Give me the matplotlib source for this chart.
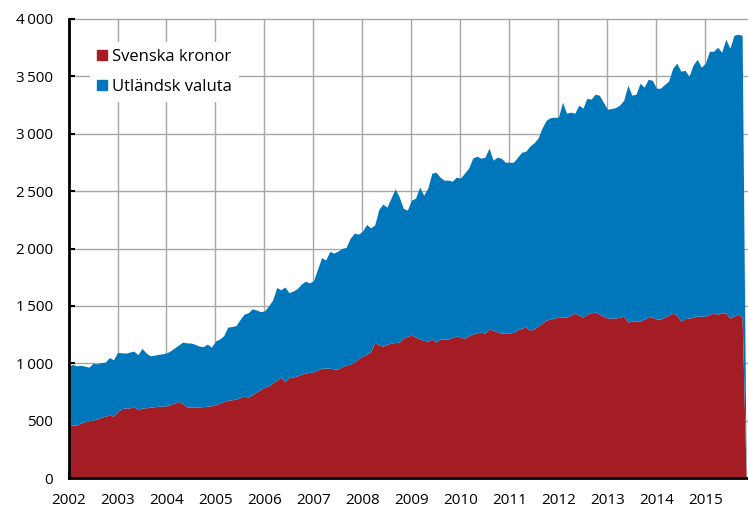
import numpy as np
import matplotlib
matplotlib.use('Agg')
import matplotlib.pyplot as plt
from matplotlib.lines import Line2D

plt.rcParams['font.family'] = ['Open Sans', 'DejaVu Sans']

# Monthly values, Jan 2002 - Oct 2015
# Svenska kronor (bottom series)
kronor = [
    470, 462, 462, 480, 490, 498, 505, 515, 530, 540, 548, 540,          # 2002
    575, 605, 612, 610, 625, 595, 610, 612, 618, 620, 627, 627,          # 2003
    628, 640, 653, 668, 645, 620, 618, 618, 620, 622, 627, 630,          # 2004
    636, 655, 665, 678, 682, 688, 700, 714, 705, 725, 750, 770,          # 2005
    792, 801, 830, 850, 880, 838, 875, 880, 890, 905, 915, 920,          # 2006
    925, 940, 958, 958, 958, 950, 950, 970, 985, 993, 1010, 1040,        # 2007
    1060, 1080, 1100, 1185, 1158, 1150, 1165, 1176, 1180, 1185, 1219, 1235,  # 2008
    1246, 1228, 1211, 1200, 1193, 1211, 1185, 1211, 1210, 1211, 1225, 1237,  # 2009
    1225, 1219, 1240, 1254, 1265, 1272, 1263, 1298, 1289, 1275, 1263, 1263,  # 2010
    1263, 1270, 1289, 1307, 1315, 1289, 1300, 1324, 1350, 1376, 1385, 1394,  # 2011
    1402, 1402, 1402, 1420, 1437, 1420, 1402, 1428, 1440, 1446, 1428, 1410,  # 2012
    1394, 1394, 1394, 1402, 1411, 1359, 1367, 1367, 1367, 1385, 1400, 1402,  # 2013
    1385, 1385, 1402, 1420, 1437, 1420, 1367, 1390, 1394, 1400, 1411, 1411,  # 2014
    1411, 1425, 1437, 1428, 1437, 1437, 1394, 1411, 1428, 1402,              # 2015
]

# Top of the stack: kronor + utländsk valuta
totalt = [
    975, 990, 978, 982, 975, 966, 1000, 995, 1005, 1010, 1050, 1030,     # 2002
    1095, 1092, 1088, 1098, 1106, 1075, 1130, 1090, 1065, 1070, 1078, 1082,  # 2003
    1090, 1110, 1135, 1160, 1185, 1178, 1176, 1165, 1150, 1145, 1167, 1140,  # 2004
    1193, 1211, 1240, 1315, 1320, 1328, 1380, 1428, 1440, 1475, 1465, 1450,  # 2005
    1455, 1500, 1550, 1660, 1640, 1665, 1615, 1630, 1650, 1690, 1715, 1700,  # 2006
    1720, 1820, 1920, 1900, 1975, 1960, 1978, 2000, 2010, 2090, 2134, 2125,  # 2007
    2150, 2210, 2180, 2205, 2340, 2387, 2360, 2440, 2520, 2450, 2350, 2334,  # 2008
    2421, 2439, 2535, 2465, 2526, 2657, 2665, 2622, 2596, 2596, 2587, 2622,  # 2009
    2613, 2657, 2700, 2787, 2805, 2787, 2796, 2874, 2770, 2796, 2787, 2752,  # 2010
    2752, 2752, 2796, 2839, 2848, 2892, 2920, 2962, 3050, 3118, 3140, 3144,  # 2011
    3144, 3275, 3179, 3188, 3179, 3249, 3223, 3310, 3301, 3345, 3336, 3275,  # 2012
    3214, 3220, 3228, 3250, 3292, 3423, 3336, 3345, 3440, 3406, 3475, 3466,  # 2013
    3397, 3397, 3430, 3460, 3571, 3615, 3545, 3553, 3501, 3600, 3649, 3580,  # 2014
    3615, 3719, 3719, 3754, 3710, 3824, 3745, 3858, 3867, 3858,              # 2015
]

# series falls to zero after the last month
kronor = kronor + [0]
totalt = totalt + [0]

start_year = 2002
years = list(range(2002, 2016))
yticks = [0, 500, 1000, 1500, 2000, 2500, 3000, 3500, 4000]

red = '#a51d24'
blue = '#0076bb'
grid_col = '#a6a6a6'

x = start_year + np.arange(len(kronor)) / 12.0

fig = plt.figure(figsize=(7.48, 5.08), dpi=100)
ax = fig.add_axes([0.0916, 0.059, 0.9084, 0.9036])

ax.fill_between(x, 0, kronor, color=red, lw=0, zorder=2)
ax.fill_between(x, kronor, totalt, color=blue, lw=0, zorder=2)

ax.set_xlim(2002, 2015.87)
ax.set_ylim(0, 4000)
ax.set_xticks(years)
ax.set_xticklabels([str(y) for y in years])
ax.set_yticks(yticks)
ax.set_yticklabels([f'{v:,}'.replace(',', '\u2009') for v in yticks])

ax.grid(True, color=grid_col, lw=1.0, zorder=0, clip_on=False)
ax.set_axisbelow(True)

for s in ['top', 'right']:
    ax.spines[s].set_visible(False)
for s in ['left', 'bottom']:
    ax.spines[s].set_linewidth(2.0)
    ax.spines[s].set_color('black')
    ax.spines[s].set_zorder(5)

ax.tick_params(axis='both', direction='in', length=4, width=1.5,
               labelsize=11, colors='black')
ax.tick_params(axis='y', pad=11)
ax.tick_params(axis='x', pad=11)

handles = [
    Line2D([], [], marker='s', ls='', color=red, markersize=7),
    Line2D([], [], marker='s', ls='', color=blue, markersize=7),
]
leg = ax.legend(handles, ['Svenska kronor', 'Utländsk valuta'],
                loc='upper left', bbox_to_anchor=(0.02, 0.968),
                frameon=True, fontsize=12, handlelength=0.6,
                handletextpad=0.3, labelspacing=0.85, borderpad=0.4)
leg.get_frame().set_facecolor('white')
leg.get_frame().set_edgecolor('none')
leg.get_frame().set_alpha(1)

fig.savefig('out.png', dpi=100)
